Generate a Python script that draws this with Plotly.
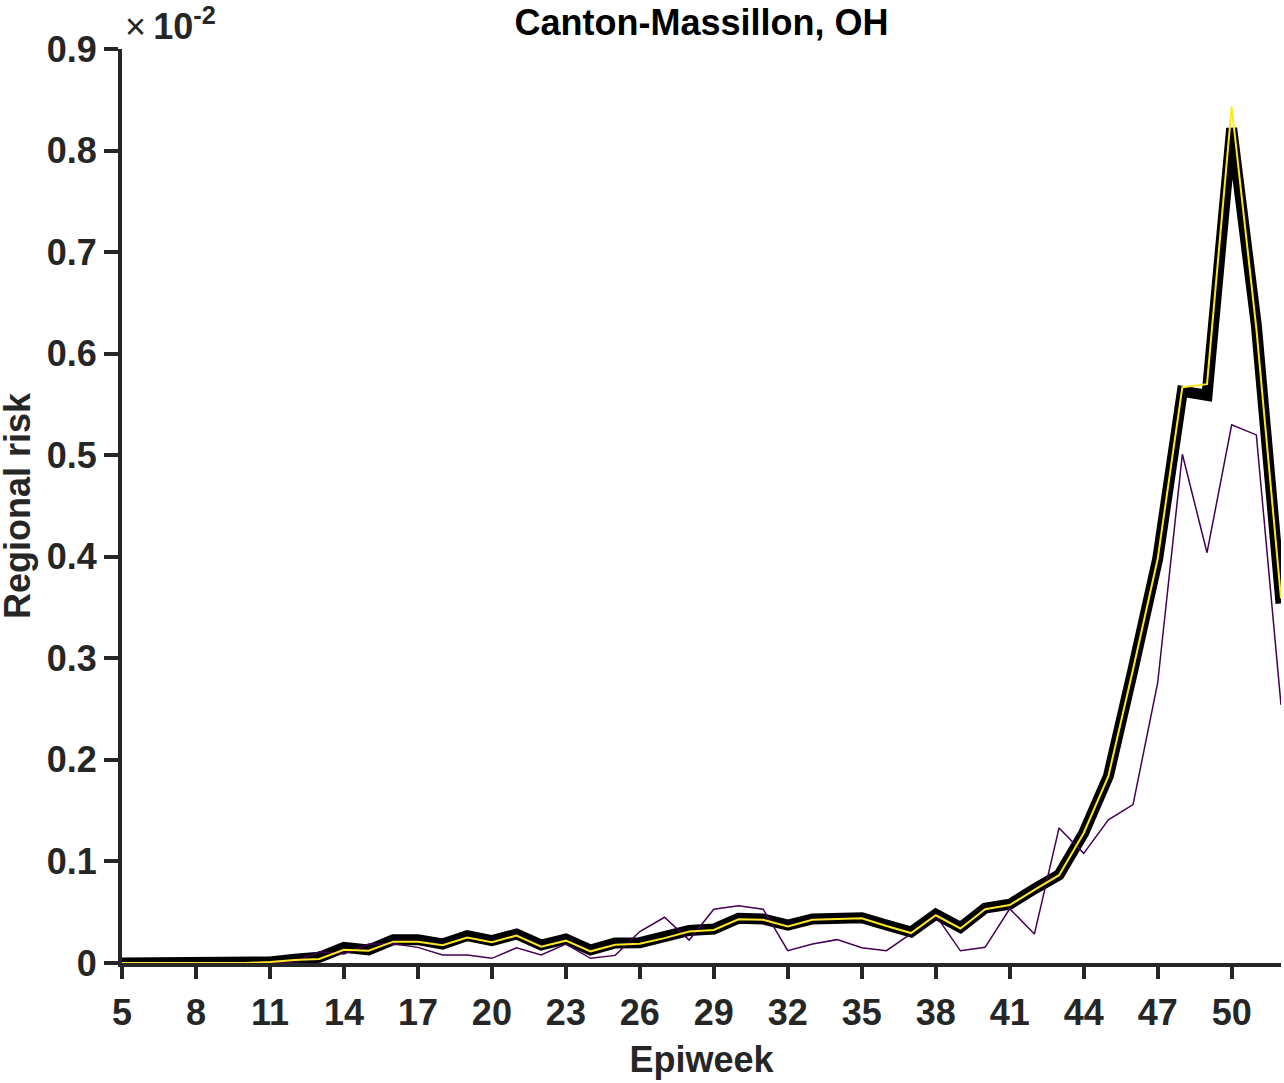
import plotly.graph_objects as go

# Epiweeks
weeks = list(range(5, 53))

# Values in axis units (x 10^-2)
black_vals = [0, 0, 0, 0, 0, 0, 0.001, 0.0036, 0.0056, 0.0154, 0.0128, 0.023,
              0.023, 0.0187, 0.027, 0.022, 0.0285, 0.0177, 0.0236, 0.0128, 0.0197, 0.020,
              0.0256, 0.032, 0.0335, 0.044, 0.0433, 0.0374, 0.0433, 0.0436, 0.0446, 0.0374,
              0.0305, 0.048, 0.035, 0.054, 0.0578, 0.073, 0.0868, 0.128, 0.184, 0.289,
              0.398, 0.563, 0.559, 0.822, 0.628, 0.354]

yellow_vals = [0, 0, 0, 0, 0, 0, 0.001, 0.003, 0.004, 0.013, 0.012, 0.021,
               0.021, 0.0175, 0.025, 0.0205, 0.027, 0.016, 0.022, 0.0115, 0.018, 0.019,
               0.0245, 0.031, 0.0325, 0.043, 0.0425, 0.036, 0.0425, 0.043, 0.044, 0.0365,
               0.0295, 0.047, 0.034, 0.053, 0.057, 0.072, 0.0865, 0.128, 0.184, 0.289,
               0.398, 0.567, 0.570, 0.843, 0.625, 0.359]

purple_vals = [0, 0, 0, 0, 0, 0, 0, 0.001, 0.011, 0.0089, 0.0187, 0.019,
               0.0154, 0.0079, 0.0079, 0.0046, 0.015, 0.0079, 0.0187, 0.0046, 0.0075, 0.031,
               0.045, 0.0226, 0.053, 0.0564, 0.053, 0.0121, 0.0187, 0.023, 0.015, 0.0121,
               0.029, 0.047, 0.012, 0.0154, 0.0534, 0.0285, 0.133, 0.108, 0.141, 0.156,
               0.276, 0.501, 0.404, 0.530, 0.520, 0.254]

x_ticks = [5, 8, 11, 14, 17, 20, 23, 26, 29, 32, 35, 38, 41, 44, 47, 50]
y_ticks = [0, 0.1, 0.2, 0.3, 0.4, 0.5, 0.6, 0.7, 0.8, 0.9]
y_tick_text = ["0", "0.1", "0.2", "0.3", "0.4", "0.5", "0.6", "0.7", "0.8", "0.9"]

axis_color = "#262626"
font_family = "Liberation Sans, Arial, sans-serif"

fig = go.Figure()
fig.add_trace(go.Scatter(x=weeks, y=black_vals, mode="lines",
                         line=dict(color="black", width=11), showlegend=False))
fig.add_trace(go.Scatter(x=weeks, y=purple_vals, mode="lines",
                         line=dict(color="#440154", width=1.5), showlegend=False))
fig.add_trace(go.Scatter(x=weeks, y=yellow_vals, mode="lines",
                         line=dict(color="#FDE725", width=2), showlegend=False))

W, H = 1284, 1083
L, R, T, B = 122, 3, 49, 120
plot_w = W - L - R

fig.update_layout(
    width=W, height=H,
    margin=dict(l=L, r=R, t=T, b=B, autoexpand=False),
    paper_bgcolor="white", plot_bgcolor="white",
    font=dict(family=font_family, size=36, color=axis_color),
    title=dict(text="<b>Canton-Massillon, OH</b>", x=(L + W - R) / 2 / W, xanchor="center",
               y=1 - 22 / H, yanchor="middle",
               font=dict(size=36, color="black", family=font_family)),
    xaxis=dict(range=[5, 52], tickvals=x_ticks,
               ticktext=[f"<b>{t}</b>" for t in x_ticks],
               showgrid=False, zeroline=False, showline=True,
               linecolor=axis_color, linewidth=4, ticks="outside",
               ticklen=12, tickwidth=4, tickcolor=axis_color,
               ticklabelstandoff=3,
               tickfont=dict(size=36, color=axis_color, family=font_family),
               title=dict(text="<b>Epiweek</b>", standoff=16,
                          font=dict(size=36, color=axis_color, family=font_family))),
    yaxis=dict(range=[0, 0.9], tickvals=y_ticks,
               ticktext=[f"<b>{t}</b>" for t in y_tick_text],
               showgrid=False, zeroline=False, showline=True,
               linecolor=axis_color, linewidth=4, ticks="outside",
               ticklen=14, tickwidth=4, tickcolor=axis_color,
               tickfont=dict(size=36, color=axis_color, family=font_family)),
    annotations=[
        dict(text="<span style='font-weight:normal'>×</span><span style='font-size:26px'> </span><b>10<sup>-2</sup></b>",
             xref="paper", yref="paper", x=0, y=1, xanchor="left", yanchor="bottom",
             xshift=1, yshift=0, showarrow=False,
             font=dict(size=36, color=axis_color, family=font_family)),
        dict(text="<b>Regional risk</b>", textangle=-90,
             xref="paper", yref="paper", x=(17 - L) / plot_w, y=0.5,
             xanchor="center", yanchor="middle", showarrow=False,
             font=dict(size=36, color=axis_color, family=font_family)),
    ],
)

# remove the default 8px page margin so the figure fills the window exactly
fig.write_html("out.html", config={"displayModeBar": False},
               post_script="document.body.style.margin='0px';")
